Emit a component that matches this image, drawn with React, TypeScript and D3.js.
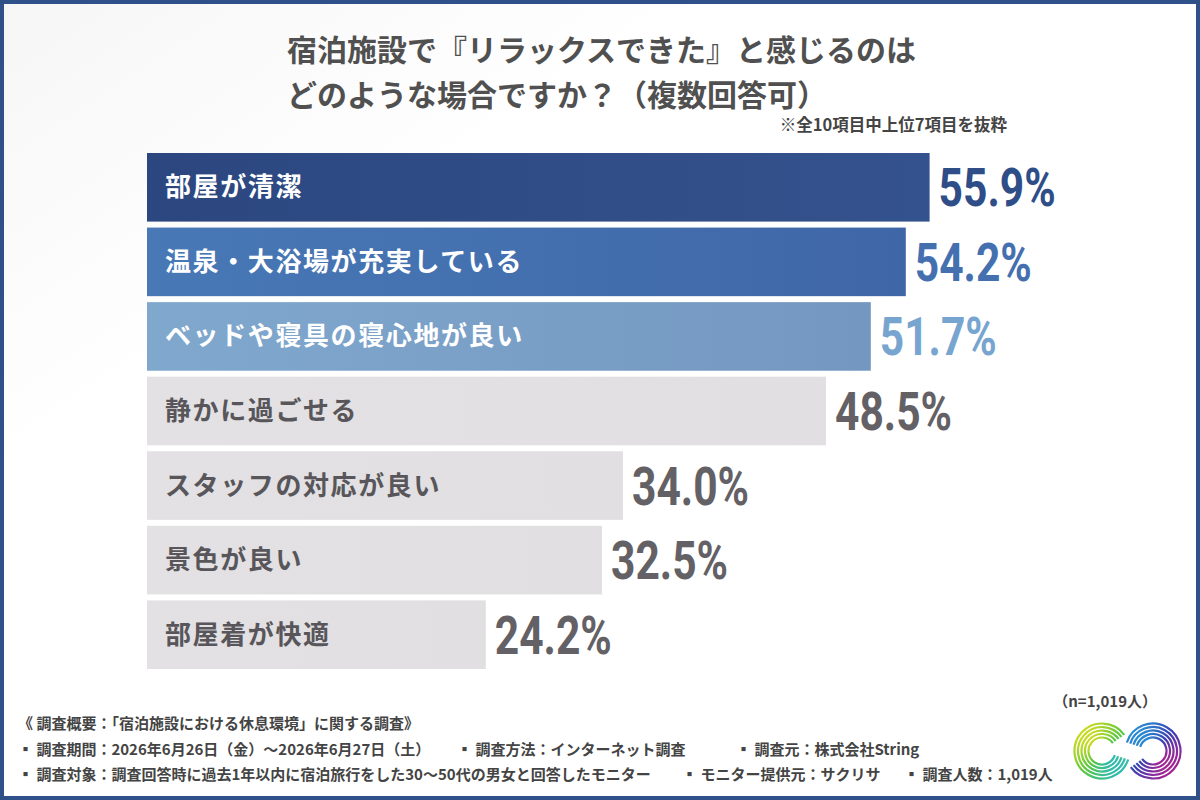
import React from 'react';
import * as d3 from 'd3';

// chart data
const categories = [
  '部屋が清潔',
  '温泉・大浴場が充実している',
  'ベッドや寝具の寝心地が良い',
  '静かに過ごせる',
  'スタッフの対応が良い',
  '景色が良い',
  '部屋着が快適',
];
const values = [55.9, 54.2, 51.7, 48.5, 34.0, 32.5, 24.2];

const titleLines = [
  '宿泊施設で『リラックスできた』と感じるのは',
  'どのような場合ですか？（複数回答可）',
];
const subNote = '※全10項目中上位7項目を抜粋';
const sampleNote = '（n=1,019人）';
const footerHead = '《 調査概要：「宿泊施設における休息環境」に関する調査》';
const footerRow1 = [
  '▪ 調査期間：2026年6月26日（金）～2026年6月27日（土）',
  '▪ 調査方法：インターネット調査',
  '▪ 調査元：株式会社String',
];
const footerRow2 = [
  '▪ 調査対象：調査回答時に過去1年以内に宿泊旅行をした30～50代の男女と回答したモニター',
  '▪ モニター提供元：サクリサ',
  '▪ 調査人数：1,019人',
];

// styling per bar
const barFills = [
  ['#2c4780', '#34528d'],
  ['#4878b6', '#3f67a7'],
  ['#80a8cd', '#7497c1'],
  ['#e3e1e3', '#e1dfe1'],
  ['#e3e1e3', '#e1dfe1'],
  ['#e3e1e3', '#e1dfe1'],
  ['#e3e1e3', '#e1dfe1'],
];
const valueColors = ['#2f4d87', '#4570b0', '#77a5cf', '#636165', '#636165', '#636165', '#636165'];
const labelColors = ['#ffffff', '#ffffff', '#ffffff', '#58565a', '#58565a', '#58565a', '#58565a'];

const W = 1200;
const H = 800;
const JP = '"Noto Sans CJK JP", "Noto Sans", sans-serif';
const NUM = 'Roboto, "Liberation Sans Narrow", "DejaVu Sans Condensed", sans-serif';

const footerRow1X = [18, 457, 736];
const footerRow2X = [18, 682, 904];

const Logo = ({ x, y }: { x: number; y: number }) => {
  // two interlocking arcs drawn as bundles of thin strokes
  const radii = [13.5, 17, 20.5, 24, 27.5];
  const arc = (a0: number, a1: number, r: number) =>
    d3.arc()({ innerRadius: r, outerRadius: r, startAngle: a0, endAngle: a1 }) as string;
  return (
    <g transform={`translate(${x},${y})`}>
      <defs>
        <linearGradient id="logoL" x1="0" y1="0" x2="1" y2="1">
          <stop offset="0" stopColor="#f4e21c" />
          <stop offset="0.5" stopColor="#5ec83a" />
          <stop offset="1" stopColor="#1fb6d8" />
        </linearGradient>
        <linearGradient id="logoR" x1="0" y1="0" x2="1" y2="1">
          <stop offset="0" stopColor="#22a6e0" />
          <stop offset="0.5" stopColor="#3a3fb0" />
          <stop offset="1" stopColor="#d0188a" />
        </linearGradient>
      </defs>
      {radii.map((r) => (
        <path key={'l' + r} transform="translate(-25,0)" d={arc(Math.PI * 0.6, Math.PI * 2.3, r)}
          fill="none" stroke="url(#logoL)" strokeWidth={2.2} />
      ))}
      {radii.map((r) => (
        <path key={'r' + r} transform="translate(26,0)" d={arc(-Math.PI * 0.4, Math.PI * 1.3, r)}
          fill="none" stroke="url(#logoR)" strokeWidth={2.2} />
      ))}
    </g>
  );
};

const App = () => {
  const x = d3.scaleLinear().domain([0, 100]).range([147, 1547]);
  const y = d3.scaleBand<string>().domain(categories).range([153, 669]).paddingInner(0.08).paddingOuter(0);
  const bw = y.bandwidth();

  return (
    <svg width={W} height={H} viewBox={`0 0 ${W} ${H}`}
      style={{ position: 'absolute', left: 0, top: 0, display: 'block' }}>
      <defs>
        {barFills.map((f, i) => (
          <linearGradient key={i} id={`bar${i}`} x1="0" y1="0" x2="1" y2="0">
            <stop offset="0" stopColor={f[0]} />
            <stop offset="1" stopColor={f[1]} />
          </linearGradient>
        ))}
        <linearGradient id="bg" x1="0" y1="0" x2="1" y2="1">
          <stop offset="0" stopColor="#f6f6f7" />
          <stop offset="0.3" stopColor="#ffffff" />
        </linearGradient>
      </defs>
      <rect x={0} y={0} width={W} height={H} fill="url(#bg)" />
      <rect x={2} y={2} width={W - 4} height={H - 4} fill="none" stroke="#2f5089" strokeWidth={4} />

      {/* title */}
      {titleLines.map((t, i) => (
        <text key={i} x={287} y={61 + i * 45} fontFamily={JP} fontWeight={700} fontSize={30} fill="#505050">
          {t}
        </text>
      ))}
      <text x={1007} y={131} textAnchor="end" fontFamily={JP} fontWeight={700} fontSize={16.5} fill="#444">
        {subNote}
      </text>

      {/* bars */}
      {categories.map((c, i) => {
        const y0 = y(c) as number;
        const x1 = x(values[i]);
        return (
          <g key={c}>
            <rect x={x(0)} y={y0} width={x1 - x(0)} height={bw} fill={`url(#bar${i})`} />
            <text x={165} y={y0 + bw / 2 + 9} fontFamily={JP} fontWeight={700} fontSize={26}
              letterSpacing={1.6} fill={labelColors[i]}>
              {c}
            </text>
            <text x={x1 + 9} y={y0 + bw / 2 + 19} fontFamily={NUM} fontWeight={700} fontSize={54}
              fill={valueColors[i]} textLength={117} lengthAdjust="spacingAndGlyphs">
              {values[i].toFixed(1) + '%'}
            </text>
          </g>
        );
      })}

      {/* footer */}
      <text x={1157} y={707} textAnchor="end" fontFamily={JP} fontWeight={700} fontSize={15} fill="#444">
        {sampleNote}
      </text>
      <text x={18} y={729} fontFamily={JP} fontWeight={700} fontSize={15} fill="#444">{footerHead}</text>
      {footerRow1.map((t, i) => (
        <text key={t} x={footerRow1X[i]} y={755} fontFamily={JP} fontWeight={700} fontSize={15} fill="#444">{t}</text>
      ))}
      {footerRow2.map((t, i) => (
        <text key={t} x={footerRow2X[i]} y={780} fontFamily={JP} fontWeight={700} fontSize={15} fill="#444">{t}</text>
      ))}

      <Logo x={1127} y={751} />
    </svg>
  );
};

export default App;
